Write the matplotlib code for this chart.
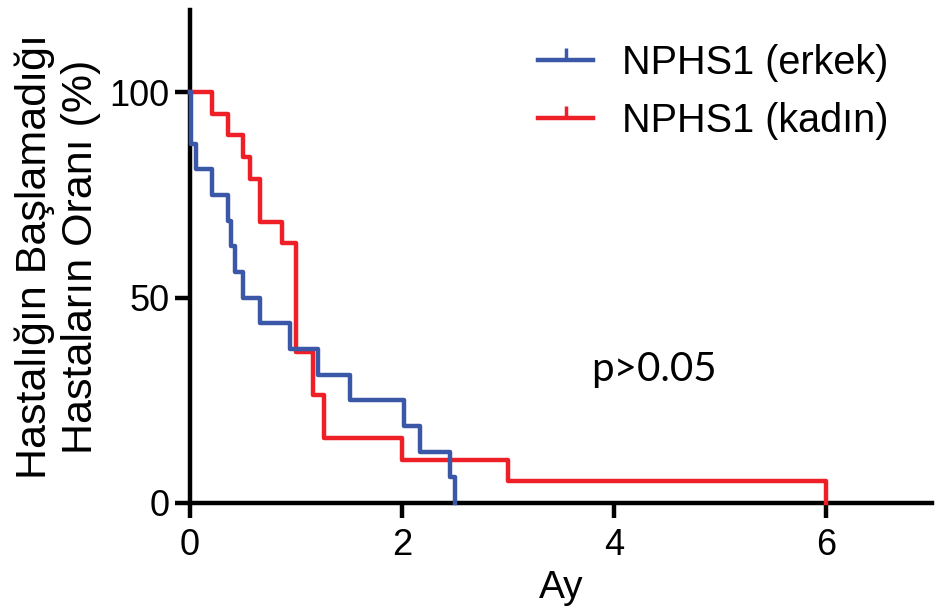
import matplotlib.pyplot as plt
from matplotlib.lines import Line2D

plt.rcParams['font.family'] = ['Liberation Sans', 'DejaVu Sans']

# Kaplan-Meier steps (time in months, % still without onset)
erkek_t = [0, 0.01, 0.06, 0.21, 0.36, 0.39, 0.42, 0.50, 0.66, 0.94, 1.21, 1.51, 2.02, 2.17, 2.45, 2.50]
erkek_s = [100, 87.5, 81.25, 75, 68.75, 62.5, 56.25, 50, 43.75, 37.5, 31.25, 25, 18.75, 12.5, 6.25, 0]

kadin_t = [0, 0.21, 0.36, 0.50, 0.57, 0.66, 0.865, 1.0, 1.16, 1.26, 2.0, 3.0, 6.0]
kadin_s = [100, 94.7, 89.5, 84.2, 78.9, 68.4, 63.2, 36.8, 26.3, 15.8, 10.5, 5.3, 0]

labels = ['NPHS1 (erkek)', 'NPHS1 (kadın)']
colors = ['#3b58a8', '#ee1f26']
xticks = [0, 2, 4, 6]
yticks = [0, 50, 100]

fig = plt.figure(figsize=(9.38, 6.13), dpi=100)
ax = fig.add_axes([190 / 938, 1 - 503 / 613, 742 / 938, 493 / 613])

ax.step(kadin_t, kadin_s, where='post', color=colors[1], lw=3.2, clip_on=False, zorder=3)
ax.step(erkek_t, erkek_s, where='post', color=colors[0], lw=3.2, clip_on=False, zorder=4)

ax.set_xlim(0, 7)
ax.set_ylim(0, 120)
ax.set_xticks(xticks)
ax.set_yticks(yticks)
ax.tick_params(labelsize=26, width=3.2, length=11, pad=4)
ax.tick_params(axis='x', pad=7)
for s in ['top', 'right']:
    ax.spines[s].set_visible(False)
for s in ['left', 'bottom']:
    ax.spines[s].set_linewidth(3.2)

ax.set_xlabel('Ay', fontsize=28, labelpad=5)
ax.set_ylabel('Hastalığın Başlamadığı\nHastaların Oranı (%)', fontsize=31, linespacing=1.2)
ax.yaxis.set_label_coords(-0.12, 0.5)

ax.text(4.38, 32.5, 'p>0.05', ha='center', va='center', fontsize=29, family='Lato')

handles = [Line2D([], [], color=c, lw=3.2, marker=2, markersize=9, markeredgewidth=2.5)
           for c in colors]
ax.legend(handles, labels, loc='upper left', bbox_to_anchor=(538 / 938, 1 - 44 / 613),
          bbox_transform=fig.transFigure, frameon=False, fontsize=28.5, borderpad=0,
          borderaxespad=0, handlelength=1.4, handletextpad=0.72, labelspacing=0.5)

fig.savefig('out.png', dpi=100)
